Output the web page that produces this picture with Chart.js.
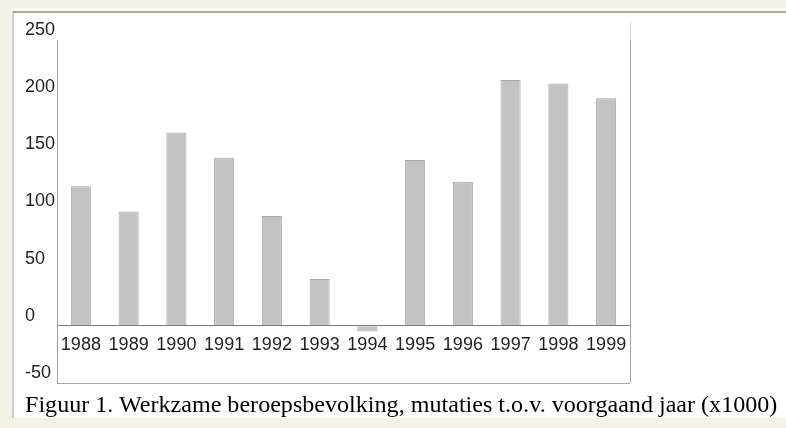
<!DOCTYPE html>
<html>
<head>
<meta charset="utf-8">
<script src="https://cdn.jsdelivr.net/npm/chart.js@4.4.0/dist/chart.umd.min.js"></script>
<style>
  html, body { margin: 0; padding: 0; }
  body { width: 786px; height: 428px; background: #f4f2e6; position: relative; overflow: hidden; }
  #frame {
    position: absolute; left: 12px; top: 11px; width: 780px; height: 405px;
    background: #fff;
    border-top: 2px solid #aca899; border-left: 2px solid #cfccc0;
    box-shadow: -1px -3px 0 #fbfaf3;
  }
  #myChart { position: absolute; left: 0; top: 0; }
  #caption {
    position: absolute; left: 25px; top: 391px; white-space: nowrap;
    font-family: "Liberation Serif", "Times New Roman", serif; font-size: 24.1px; color: #000;
  }
</style>
</head>
<body>
<div id="frame"></div>
<canvas id="myChart" width="786" height="428"></canvas>
<div id="caption">Figuur 1. Werkzame beroepsbevolking, mutaties t.o.v. voorgaand jaar (x1000)</div>
<script>
const years = ['1988', '1989', '1990', '1991', '1992', '1993', '1994', '1995', '1996', '1997', '1998', '1999'];
const mutaties = [122, 100, 169, 147, 96, 41, -5, 145, 126, 215, 212, 199];
const yMin = -50;
const yMax = 250;
const yStep = 50;

// right-hand frame line of the plot, sticks out a bit above the plot
const rightLine = {
    id: 'rightLine',
    afterDraw(chart) {
        const {ctx, chartArea} = chart;
        ctx.save();
        ctx.lineWidth = 1;
        ctx.strokeStyle = '#dcdcdc';
        ctx.beginPath();
        ctx.moveTo(chartArea.right + 0.5, chartArea.top - 18);
        ctx.lineTo(chartArea.right + 0.5, chartArea.top);
        ctx.stroke();
        ctx.strokeStyle = '#a8a8a8';
        ctx.beginPath();
        ctx.moveTo(chartArea.right + 0.5, chartArea.top);
        ctx.lineTo(chartArea.right + 0.5, chartArea.bottom);
        ctx.stroke();
        ctx.restore();
    }
};

const ctx = document.getElementById('myChart').getContext('2d');
const myChart = new Chart(ctx, {
    type: 'bar',
    data: {
        labels: years,
        datasets: [{
            label: 'Mutaties',
            data: mutaties,
            backgroundColor: '#c3c3c3',
            borderColor: '#a9a9a9',
            borderWidth: 1,
            barPercentage: 0.42,
            categoryPercentage: 1
        }]
    },
    options: {
        responsive: false,
        animation: false,
        layout: {
            padding: { left: 25, top: 40, right: 156, bottom: 45 }
        },
        plugins: {
            legend: { display: false },
            tooltip: { enabled: false }
        },
        scales: {
            x: {
                position: { y: 0 },
                afterFit(scale) { scale.height = 0; },
                grid: { display: false, drawTicks: false },
                border: { display: true, color: '#7a7a7a', width: 1 },
                ticks: {
                    padding: 8,
                    color: '#1e1e1e',
                    maxRotation: 0,
                    autoSkip: false,
                    font: { family: 'Liberation Sans, Arial, sans-serif', size: 18 }
                }
            },
            y: {
                min: yMin,
                max: yMax,
                afterFit(scale) { scale.width = 32; },
                grid: {
                    drawTicks: false,
                    color: c => (c.tick && c.tick.value === yMin) ? '#a8a8a8' : 'rgba(0,0,0,0)'
                },
                border: { display: true, color: '#a0a0a0', width: 1 },
                ticks: {
                    stepSize: yStep,
                    crossAlign: 'far',
                    labelOffset: -10,
                    padding: 0,
                    color: '#1e1e1e',
                    font: { family: 'Liberation Sans, Arial, sans-serif', size: 18 }
                }
            }
        }
    },
    plugins: [rightLine]
});
</script>
</body>
</html>
